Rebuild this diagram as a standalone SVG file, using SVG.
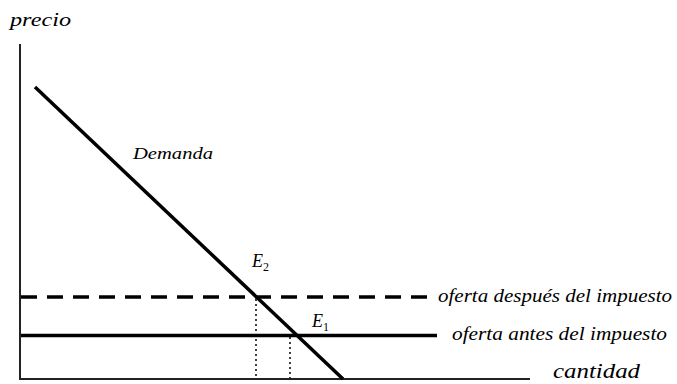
<svg xmlns="http://www.w3.org/2000/svg" width="677" height="384" viewBox="0 0 677 384">
<style>
.t{font-family:'Liberation Serif','DejaVu Serif',serif;font-style:italic;fill:#000}
.sub{font-style:normal;font-size:12px}
.ax{stroke:#222;stroke-width:2;fill:none}
.thick{stroke:#000;stroke-width:3.5;fill:none}
.dot{stroke:#000;stroke-width:1.5;stroke-dasharray:2,3;fill:none}
</style>
<rect width="677" height="384" fill="#fff"/>
<g id="axes">
<line class="ax" x1="20" y1="44" x2="20" y2="379"/>
<line class="ax" x1="19" y1="379" x2="530" y2="379"/>
</g>
<g id="connectors">
<line class="thick" x1="35" y1="87" x2="343" y2="379"/>
<line class="thick" x1="21" y1="297" x2="437" y2="297" stroke-dasharray="16,10"/>
<line class="thick" x1="21" y1="335.5" x2="437" y2="335.5"/>
<line class="dot" x1="256" y1="299" x2="256" y2="378"/>
<line class="dot" x1="290" y1="337" x2="290" y2="378"/>
</g>
<g id="labels">
<text class="t" x="10" y="26" font-size="19" textLength="61" lengthAdjust="spacingAndGlyphs">precio</text>
<text class="t" x="133" y="159" font-size="17" textLength="80" lengthAdjust="spacingAndGlyphs">Demanda</text>
<text class="t" x="252" y="267" font-size="18">E<tspan class="sub" dy="4">2</tspan></text>
<text class="t" x="312" y="327" font-size="18">E<tspan class="sub" dy="4">1</tspan></text>
<text class="t" x="438" y="302" font-size="19" textLength="234" lengthAdjust="spacingAndGlyphs">oferta después del impuesto</text>
<text class="t" x="452" y="340" font-size="19" textLength="215" lengthAdjust="spacingAndGlyphs">oferta antes del impuesto</text>
<text class="t" x="553" y="378" font-size="21" textLength="87" lengthAdjust="spacingAndGlyphs">cantidad</text>
</g>
</svg>
